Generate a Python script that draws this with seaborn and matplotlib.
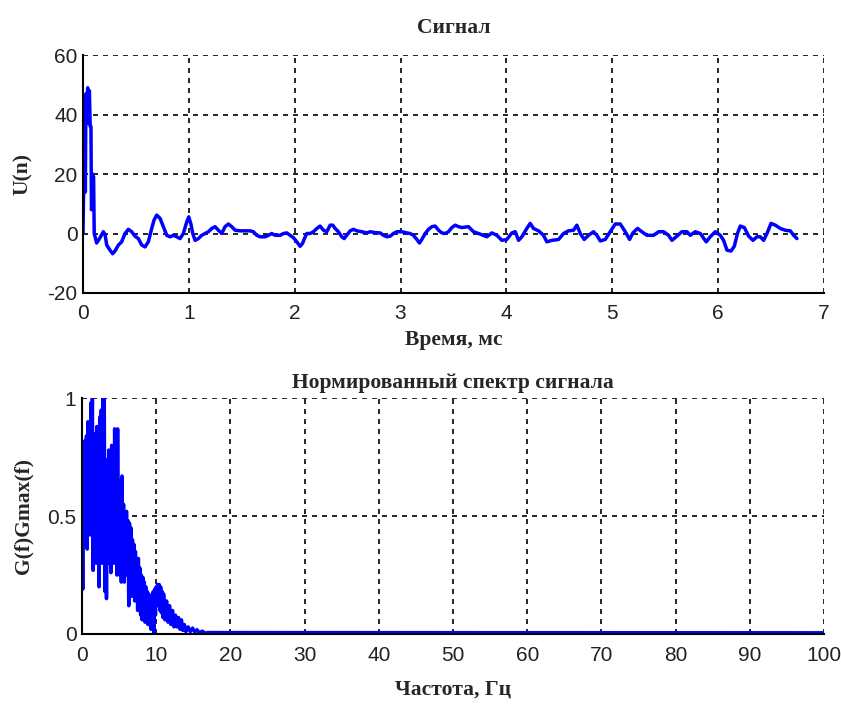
import numpy as np
import pandas as pd
import matplotlib
matplotlib.use("Agg")
import matplotlib.pyplot as plt
import seaborn as sns

# Signal, digitized vertices (time in ms, amplitude)
time_ms = [
    0.000, 0.005, 0.012, 0.016, 0.022, 0.028, 0.036, 0.044, 0.052, 0.060,
    0.068, 0.075, 0.080, 0.088, 0.092, 0.100, 0.106, 0.129, 0.161, 0.192,
    0.208, 0.224, 0.255, 0.280, 0.302, 0.334, 0.365, 0.397, 0.428, 0.460,
    0.491, 0.523, 0.555, 0.586, 0.617, 0.649, 0.671, 0.696, 0.728, 0.759,
    0.791, 0.822, 0.854, 0.885, 0.917, 0.948, 0.980, 0.999, 1.018, 1.037,
    1.059, 1.090, 1.122, 1.153, 1.185, 1.216, 1.248, 1.279, 1.311, 1.342,
    1.374, 1.405, 1.437, 1.484, 1.531, 1.578, 1.610, 1.641, 1.673, 1.720,
    1.752, 1.783, 1.815, 1.862, 1.894, 1.925, 1.957, 1.988, 2.020, 2.051,
    2.073, 2.092, 2.114, 2.146, 2.177, 2.209, 2.240, 2.272, 2.303, 2.335,
    2.360, 2.382, 2.413, 2.445, 2.467, 2.492, 2.524, 2.555, 2.587, 2.634,
    2.681, 2.713, 2.760, 2.807, 2.839, 2.870, 2.902, 2.933, 2.965, 3.012,
    3.059, 3.091, 3.122, 3.154, 3.179, 3.201, 3.233, 3.264, 3.296, 3.327,
    3.359, 3.390, 3.422, 3.453, 3.485, 3.516, 3.548, 3.579, 3.642, 3.689,
    3.752, 3.815, 3.863, 3.910, 3.957, 4.004, 4.052, 4.083, 4.115, 4.146,
    4.193, 4.225, 4.256, 4.304, 4.351, 4.382, 4.430, 4.493, 4.540, 4.587,
    4.634, 4.666, 4.698, 4.735, 4.776, 4.823, 4.855, 4.887, 4.934, 4.981,
    5.028, 5.076, 5.123, 5.164, 5.195, 5.239, 5.280, 5.328, 5.391, 5.438,
    5.485, 5.532, 5.564, 5.611, 5.658, 5.706, 5.737, 5.784, 5.832, 5.888,
    5.926, 5.974, 6.021, 6.052, 6.084, 6.122, 6.153, 6.185, 6.210, 6.248,
    6.289, 6.330, 6.367, 6.399, 6.430, 6.462, 6.500, 6.541, 6.588, 6.635,
    6.682, 6.714, 6.745,
]
u_signal = [
    0.0, 13.0, 14.0, 45.0, 14.0, 47.0, 38.0, 49.0, 37.0, 48.0,
    36.0, 36.0, 8.0, 9.0, 20.0, 19.0, 0.0, -3.2, -1.4, 0.6,
    -0.3, -3.9, -5.6, -6.8, -5.9, -3.9, -2.8, 0.0, 1.4, 0.6,
    -0.9, -1.7, -3.9, -4.5, -2.8, 1.7, 4.5, 6.2, 5.1, 2.3,
    -0.6, -1.1, -0.6, -1.1, -1.7, 0.0, 3.9, 5.6, 3.4, 0.0,
    -2.3, -1.7, -0.6, 0.0, 0.6, 1.7, 2.3, 1.1, 0.0, 2.3,
    3.2, 2.3, 1.1, 0.9, 0.9, 0.9, 0.6, -0.6, -1.1, -1.1,
    -0.6, 0.0, -0.6, -0.6, 0.0, 0.2, -0.6, -1.4, -2.8, -4.3,
    -3.4, -1.7, 0.0, 0.0, 0.6, 1.7, 2.5, 1.1, 0.6, 2.8,
    2.8, 1.7, 0.6, -1.1, -1.7, -0.6, 0.9, 1.4, 0.9, 0.6,
    0.2, 0.6, 0.3, 0.2, -0.6, -1.1, -0.9, 0.0, 0.6, 0.6,
    0.2, 0.0, -0.6, -2.0, -3.2, -2.0, 0.0, 1.4, 2.3, 2.5,
    1.1, 0.2, 0.0, 0.6, 2.0, 2.8, 2.3, 2.0, 2.3, 0.6,
    -0.2, -1.1, 0.2, -0.6, -2.3, -2.0, 0.2, 0.6, -2.3, -1.1,
    1.7, 3.4, 1.7, 0.9, -0.6, -2.8, -2.3, -2.0, 0.0, 0.9,
    1.1, 2.8, 0.0, -2.0, -0.6, 0.6, -0.6, -2.5, -2.0, 0.6,
    3.2, 3.2, 0.6, -2.0, 0.2, 1.7, 0.6, -0.6, -0.6, 0.6,
    0.6, -0.6, -2.3, -0.9, 0.6, 0.6, -0.6, 0.6, 0.0, -2.8,
    -1.1, 0.6, -0.6, -2.3, -5.6, -5.9, -4.3, 0.2, 2.5, 2.0,
    -0.9, -2.3, -1.1, -1.1, -2.3, 0.0, 3.4, 2.8, 1.7, 1.1,
    0.9, -0.6, -1.7,
]

# Normalized spectrum, digitized vertices (frequency in Hz, G/Gmax)
freq_hz = [
    0.0, 0.1, 0.2, 0.3, 0.4, 0.5, 0.6, 0.7, 0.8, 0.9,
    1.0, 1.1, 1.2, 1.3, 1.4, 1.5, 1.6, 1.7, 1.8, 1.9,
    2.0, 2.1, 2.2, 2.3, 2.4, 2.5, 2.6, 2.7, 2.8, 2.9,
    3.0, 3.1, 3.2, 3.3, 3.4, 3.5, 3.6, 3.7, 3.8, 3.9,
    4.0, 4.1, 4.2, 4.3, 4.4, 4.5, 4.6, 4.7, 4.8, 4.9,
    5.0, 5.1, 5.2, 5.3, 5.4, 5.5, 5.6, 5.7, 5.8, 5.9,
    6.0, 6.1, 6.2, 6.3, 6.4, 6.5, 6.6, 6.7, 6.8, 6.9,
    7.0, 7.1, 7.2, 7.3, 7.4, 7.5, 7.6, 7.7, 7.8, 7.9,
    8.0, 8.1, 8.2, 8.3, 8.4, 8.5, 8.6, 8.7, 8.8, 8.9,
    9.0, 9.1, 9.2, 9.3, 9.4, 9.5, 9.6, 9.7, 9.8, 9.9,
    10.0, 10.1, 10.2, 10.3, 10.4, 10.5, 10.6, 10.7, 10.8, 10.9,
    11.0, 11.2, 11.4, 11.6, 11.8, 12.0, 12.2, 12.4, 12.6, 12.8,
    13.0, 13.2, 13.4, 13.6, 13.8, 14.0, 14.3, 14.6, 14.9, 15.2,
    15.5, 15.8, 16.2, 16.6, 17.0, 100.0,
]
g_norm = [
    0.58, 0.19, 0.67, 0.38, 0.82, 0.45, 0.84, 0.36, 0.90, 0.50,
    0.80, 0.42, 0.98, 0.55, 1.00, 0.27, 0.85, 0.40, 0.78, 0.30,
    0.88, 0.45, 0.70, 0.20, 0.92, 0.55, 0.95, 0.30, 1.00, 0.60,
    1.00, 0.18, 0.74, 0.15, 0.70, 0.35, 0.78, 0.30, 0.76, 0.26,
    0.80, 0.45, 0.75, 0.30, 0.87, 0.40, 0.70, 0.25, 0.87, 0.42,
    0.65, 0.25, 0.63, 0.22, 0.67, 0.30, 0.55, 0.22, 0.50, 0.30,
    0.52, 0.25, 0.48, 0.12, 0.47, 0.28, 0.45, 0.16, 0.40, 0.20,
    0.38, 0.14, 0.35, 0.18, 0.30, 0.10, 0.32, 0.12, 0.28, 0.08,
    0.25, 0.06, 0.24, 0.08, 0.22, 0.05, 0.20, 0.10, 0.18, 0.04,
    0.17, 0.06, 0.16, 0.02, 0.15, 0.05, 0.18, 0.00, 0.19, 0.08,
    0.20, 0.12, 0.21, 0.13, 0.21, 0.10, 0.20, 0.09, 0.18, 0.07,
    0.17, 0.06, 0.14, 0.05, 0.12, 0.04, 0.10, 0.03, 0.08, 0.03,
    0.07, 0.02, 0.06, 0.015, 0.04, 0.01, 0.03, 0.01, 0.025, 0.008,
    0.018, 0.005, 0.012, 0.004, 0.006, 0.005,
]

signal = pd.DataFrame({"t": time_ms, "u": u_signal})
spectrum = pd.DataFrame({"f": freq_hz, "g": g_norm})

sns.set_style("white")
plt.rcParams["font.family"] = ["Liberation Sans", "DejaVu Sans"]
plt.rcParams["axes.unicode_minus"] = False

title_font = dict(family="Liberation Serif", fontweight="bold", fontsize=15.5)
tick_size = 15

fig = plt.figure(figsize=(8.41, 7.06), dpi=100)
ax1 = fig.add_axes([0.0987, 0.585, 0.881, 0.337])
ax2 = fig.add_axes([0.0975, 0.102, 0.8823, 0.334])

sns.lineplot(data=signal, x="t", y="u", ax=ax1, color="#0000ff",
             linewidth=2.5, estimator=None, sort=False)
sns.lineplot(data=spectrum, x="f", y="g", ax=ax2, color="#0000ff",
             linewidth=2.5, estimator=None, sort=False)

ax1.set_xlim(0, 7)
ax1.set_ylim(-20, 60)
ax1.set_xticks(range(0, 8))
ax1.set_yticks(range(-20, 61, 20))
ax1.set_title("Сигнал", pad=16, **title_font)
ax1.set_xlabel("Время, мс", labelpad=5, **title_font)
ax1.set_ylabel("U(n)", labelpad=10, **title_font)

ax2.set_xlim(0, 100)
ax2.set_ylim(0, 1)
ax2.set_xticks(range(0, 101, 10))
ax2.set_yticks([0, 0.5, 1])
ax2.set_yticklabels(["0", "0.5", "1"])
ax2.set_title("Нормированный спектр сигнала", pad=7, **title_font)
ax2.set_xlabel("Частота, Гц", labelpad=10, **title_font)
ax2.set_ylabel("G(f)Gmax(f)", labelpad=10, **title_font)

for ax in (ax1, ax2):
    ax.grid(True, color="black", linestyle=(0, (3, 3)), linewidth=1.2)
    ax.set_axisbelow(True)
    for side in ("top", "right"):
        ax.spines[side].set_visible(False)
    for side in ("left", "bottom"):
        ax.spines[side].set_color("black")
        ax.spines[side].set_linewidth(1.5)
    ax.tick_params(direction="in", length=4, width=1, colors="black",
                   labelsize=tick_size, labelcolor="#222222", pad=4)
ax1.tick_params(axis="x", pad=8)
ax2.tick_params(axis="x", pad=9)

fig.savefig("out.png", dpi=100)
